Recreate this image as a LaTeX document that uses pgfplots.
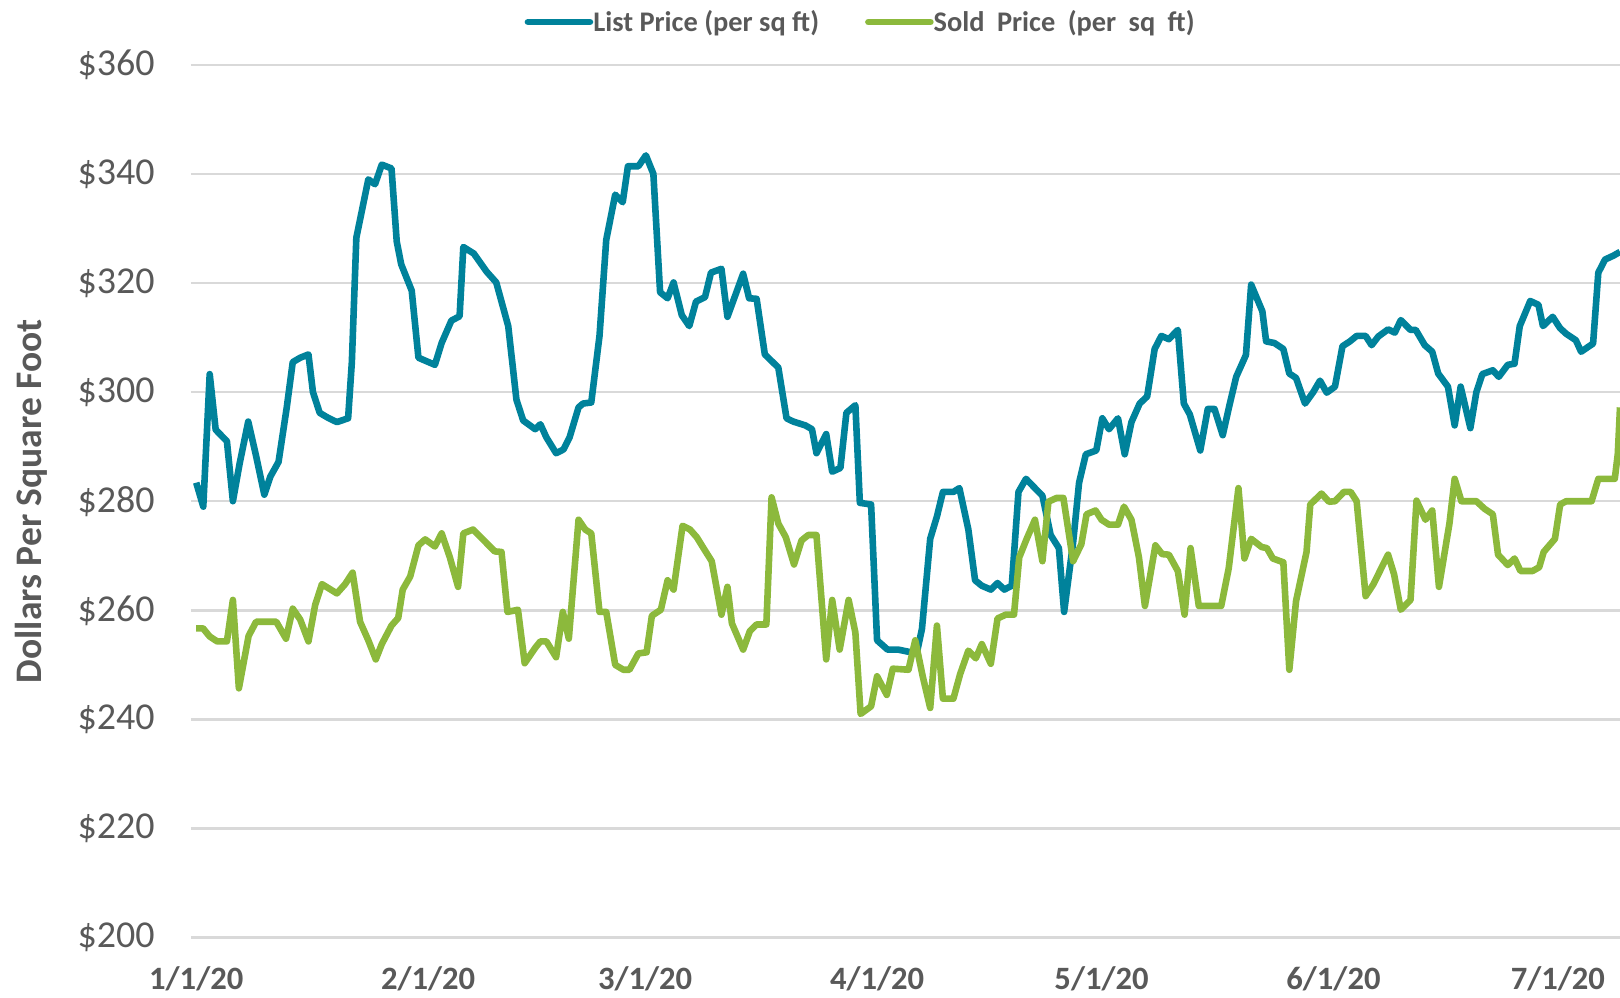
\documentclass[border=0pt]{standalone}
\usepackage{fontspec}
\setmainfont{Carlito}
\usepackage{pgfplots}
\pgfplotsset{compat=1.18}
\definecolor{listblue}{RGB}{0,130,155}
\definecolor{soldgreen}{RGB}{140,185,60}
\definecolor{textgray}{RGB}{89,89,89}
\definecolor{gridgray}{RGB}{217,217,217}
\begin{document}
\begin{tikzpicture}
\useasboundingbox (-95.5pt,-29.7pt) rectangle (714.5pt,468.8pt);
\begin{axis}[
 at={(0,0)}, anchor=south west,
 scale only axis, width=714.5pt, height=436.4pt,
 xmin=-0.7, xmax=190.3, ymin=200, ymax=360,
 xtick={0,31,60,91,121,152,182},
 xticklabels={1/1/20,2/1/20,3/1/20,4/1/20,5/1/20,6/1/20,7/1/20},
 ytick={200,220,240,260,280,300,320,340,360},
 yticklabels={\$200,\$220,\$240,\$260,\$280,\$300,\$320,\$340,\$360},
 ymajorgrids, grid style={gridgray, line width=1.2pt},
 axis line style={draw=none}, major tick length=0pt,
 xticklabel style={font=\bfseries\fontsize{16.3}{19}\selectfont, text=textgray, anchor=base, yshift=-25.7pt, inner sep=0pt},
 yticklabel style={font=\fontsize{19}{22}\selectfont, text=textgray, anchor=east, xshift=-18pt, inner sep=0pt},
 ylabel={\bfseries\fontsize{18.75}{22}\selectfont Dollars Per Square Foot},
 ylabel style={at={(axis description cs:-0.112,0.5)}, anchor=center, text=textgray},
 legend columns=2,
 legend style={at={(axis description cs:0.4679,1.049)}, anchor=center, draw=none, fill=none,
   font=\bfseries\fontsize{14.2}{16}\selectfont, text=textgray,
   column sep=0pt, /tikz/every even column/.append style={column sep=23pt},
   nodes={inner sep=0pt}},
 legend image code/.code={\draw[#1, line width=3.3pt, line cap=round] (0pt,0pt) -- (31pt,0pt);},
 line join=round,
]
\addplot[listblue, line width=3.3pt] coordinates {
(0,283.4)(0.94,279.0)(1.8,303.3)(2.6,293.1)(4.1,291.0)(4.9,280.0)(5.8,286.9)(6.95,294.6)(8.0,288.3)(9.1,281.2)
(9.9,284.5)(11.0,287.2)(12.1,297.2)(12.9,305.5)(13.9,306.3)(15.0,306.9)(15.6,300.0)(16.5,296.2)(17.6,295.3)(18.8,294.5)
(20.3,295.2)(20.8,305.5)(21.4,328.3)(23.0,339.0)(23.9,338.1)(24.8,341.7)(26.1,341.0)(26.8,327.6)(27.4,323.4)(28.8,318.6)
(29.7,306.3)(31.9,305.0)(32.8,309.0)(34.1,313.1)(35.2,313.9)(35.7,326.6)(37.1,325.4)(38.8,322.1)(40.1,320.1)(41.7,312.1)
(42.8,298.6)(43.7,294.8)(45.3,293.2)(46.0,294.1)(46.8,291.7)(48.1,288.8)(49.1,289.5)(49.9,291.7)(51.1,297.2)(51.7,297.9)
(52.8,298.1)(53.9,310.3)(54.8,327.9)(56.0,336.2)(57.0,334.8)(57.7,341.4)(59.1,341.4)(60.1,343.4)(61.1,340.0)(62.0,318.3)
(63.0,317.2)(63.8,320.1)(64.9,314.1)(65.9,312.1)(66.8,316.6)(68.0,317.4)(68.8,321.9)(70.2,322.6)(71.0,313.8)(73.1,321.7)
(73.9,317.2)(74.9,317.1)(76.0,306.9)(77.8,304.5)(78.9,295.2)(79.8,294.6)(81.4,293.9)(82.3,293.2)(82.9,288.8)(84.2,292.3)
(85.0,285.4)(86.1,286.1)(86.9,296.2)(88.1,297.6)(88.7,279.7)(90.2,279.4)(91.0,254.5)(92.4,252.8)(93.8,252.8)(95.2,252.4)
(96.3,252.1)(97.0,256.6)(98.1,273.1)(99.0,277.2)(99.8,281.7)(101.2,281.7)(102.0,282.4)(103.2,274.8)(104.1,265.5)(105.0,264.5)
(106.2,263.8)(107.1,265.0)(108.0,263.8)(109.0,264.5)(109.9,281.7)(110.9,284.1)(112.1,282.4)(113.1,281.0)(114.2,273.8)(115.3,271.4)
(116.0,259.7)(117.2,272.4)(118.0,283.4)(118.9,288.6)(120.3,289.3)(121.1,295.2)(122.0,293.2)(123.2,295.2)(124.1,288.6)(125.0,294.5)
(126.1,297.9)(127.1,299.2)(128.1,307.9)(129.0,310.3)(130.0,309.7)(131.2,311.4)(132.0,297.9)(132.8,295.9)(134.2,289.3)(135.2,296.9)
(136.1,296.9)(137.2,292.1)(138.1,297.6)(139.0,302.8)(140.3,306.8)(141.0,319.7)(142.5,314.8)(143.0,309.3)(144.1,309.0)(145.3,307.9)
(146.1,303.4)(147.0,302.6)(148.2,297.9)(149.3,300.0)(150.2,302.1)(151.1,299.9)(152.2,301.0)(153.2,308.4)(154.2,309.3)(155.1,310.3)
(156.3,310.3)(157.1,308.6)(158.0,310.2)(159.3,311.5)(160.2,310.9)(161.0,313.2)(162.3,311.4)(163.0,311.4)(164.2,308.6)(165.2,307.4)
(166.0,303.4)(167.3,301.0)(168.2,293.9)(169.0,301.0)(170.3,293.4)(171.1,300.0)(171.9,303.3)(173.3,304.0)(174.1,302.8)(175.3,305.0)
(176.2,305.2)(176.9,312.1)(178.3,316.7)(179.4,316.0)(180.0,312.1)(181.3,313.8)(182.3,311.7)(183.1,310.7)(184.4,309.5)(185.1,307.4)
(186.7,308.9)(187.4,321.9)(188.3,324.3)(189.4,325.0)(190.3,325.7)
};
\addlegendentry{List Price (per sq ft)}
\addplot[soldgreen, line width=3.3pt] coordinates {
(0,256.7)(0.9,256.7)(1.8,255.2)(2.8,254.3)(4.1,254.3)(4.9,261.9)(5.7,245.7)(7.0,255.3)(8.0,257.9)(10.7,257.9)
(12.0,254.8)(12.9,260.3)(13.9,258.3)(15.0,254.3)(15.9,261.0)(16.8,264.8)(18.8,263.1)(19.9,264.8)(20.9,266.9)(21.9,257.9)
(23.0,254.5)(24.0,251.0)(24.8,253.8)(26.1,257.2)(27.0,258.6)(27.6,263.8)(28.6,266.2)(29.7,271.9)(30.6,273.0)(31.9,271.7)
(32.8,274.1)(33.9,269.7)(35.0,264.3)(35.7,274.1)(37.0,274.8)(39.9,270.8)(40.8,270.7)(41.6,259.7)(43.0,260.1)(43.9,250.3)
(45.3,253.1)(46.0,254.3)(46.8,254.3)(48.1,251.4)(49.0,259.7)(49.8,254.8)(51.1,276.6)(52.0,274.8)(52.8,274.1)(53.9,259.7)
(54.8,259.7)(56.0,250.0)(57.1,249.1)(57.9,249.1)(59.1,252.1)(60.2,252.3)(60.9,259.0)(62.1,260.1)(63.0,265.5)(63.8,263.8)
(65.0,275.5)(66.0,274.8)(66.9,273.4)(67.8,271.4)(68.9,269.0)(70.2,259.2)(71.0,264.3)(71.6,257.6)(73.1,252.8)(74.0,256.2)
(74.9,257.4)(76.2,257.4)(76.9,280.7)(77.8,275.9)(78.8,273.4)(79.9,268.4)(80.9,272.8)(81.8,273.8)(82.9,273.8)(84.2,251.0)
(85.0,261.9)(86.0,252.8)(87.2,261.9)(88.1,255.9)(88.8,241.0)(90.2,242.4)(91.0,247.9)(92.3,244.5)(93.1,249.3)(95.2,249.1)
(96.1,254.5)(97.1,247.9)(98.1,242.1)(99.0,257.2)(99.8,243.8)(101.2,243.8)(102.1,248.3)(103.2,252.6)(104.2,251.2)(105.0,253.8)
(106.2,250.2)(107.1,258.5)(108.2,259.2)(109.3,259.2)(110.0,269.7)(111.0,273.1)(112.1,276.6)(113.1,269.0)(113.9,279.9)(115.0,280.6)
(115.9,280.6)(117.2,269.0)(118.3,272.1)(119.0,277.6)(120.2,278.3)(121.0,276.6)(122.0,275.7)(123.2,275.7)(124.0,279.0)(125.0,276.6)
(126.0,269.7)(126.8,260.8)(128.2,271.9)(129.1,270.3)(130.0,270.2)(131.2,267.2)(132.1,259.2)(132.9,271.4)(134.0,260.8)(137.0,260.8)
(138.0,267.7)(139.3,282.4)(140.1,269.5)(141.0,273.1)(142.4,271.6)(143.1,271.4)(143.9,269.5)(145.3,268.8)(146.1,249.1)(147.0,261.7)
(148.4,270.7)(148.9,279.4)(150.4,281.4)(151.4,279.9)(152.2,280.0)(153.4,281.7)(154.3,281.7)(155.1,280.0)(156.3,262.6)(157.3,264.7)
(159.3,270.2)(160.1,266.6)(161.0,260.1)(162.3,261.9)(163.1,280.1)(164.3,276.6)(165.2,278.3)(166.1,264.3)(167.5,275.9)(168.2,284.1)
(169.1,280.0)(171.1,280.0)(172.2,278.6)(173.3,277.6)(174.0,270.2)(175.3,268.3)(176.2,269.5)(177.0,267.2)(178.6,267.2)(179.5,267.9)
(180.1,270.7)(181.6,273.1)(182.3,279.4)(183.1,280.0)(186.5,280.0)(187.4,284.1)(189.6,284.1)(190.0,288.6)(190.3,297.2)
};
\addlegendentry{Sold\hspace{3pt} Price\hspace{3pt} (per\hspace{3pt} sq\hspace{3pt} ft)}
\end{axis}
\end{tikzpicture}
\end{document}
